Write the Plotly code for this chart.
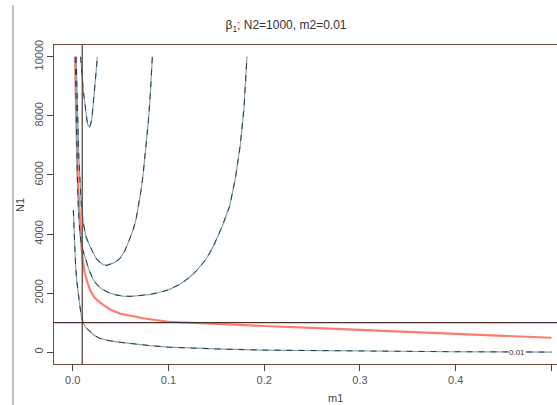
import plotly.graph_objects as go

# ---- data ----
red_m1 = [0.0024, 0.0035, 0.0047, 0.0059, 0.0075, 0.0090, 0.0104, 0.0125, 0.015, 0.018, 0.022, 0.027,
          0.032, 0.04, 0.05, 0.06, 0.075, 0.1, 0.15, 0.2, 0.25, 0.3, 0.35, 0.4, 0.45, 0.5]
red_N1 = [10000, 8000, 6600, 5520, 4400, 3650, 3130, 2700, 2400, 2110, 1880, 1720,
          1600, 1430, 1300, 1240, 1140, 1030, 950, 886, 820, 750, 680, 613, 550, 488]

low_m1 = [0.0007, 0.0013, 0.002, 0.003, 0.0042, 0.0058, 0.0076, 0.009, 0.011, 0.014, 0.018, 0.023, 0.0285,
          0.039, 0.05, 0.06, 0.08, 0.1, 0.125, 0.15, 0.2, 0.25, 0.3, 0.35, 0.4, 0.45, 0.5]
low_N1 = [4810, 4100, 3600, 2950, 2450, 1950, 1540, 1250, 977, 820, 692, 560, 466,
          385, 335, 296, 225, 170, 135, 110, 70, 50, 35, 24, 15, 9, 5]

c3_m1 = [0.0028, 0.0034, 0.004, 0.005, 0.006, 0.0075, 0.0094, 0.011, 0.0129, 0.015, 0.0175, 0.0215, 0.025,
         0.03, 0.035, 0.039, 0.045, 0.0524, 0.06, 0.07, 0.08, 0.09, 0.1, 0.112, 0.122, 0.13, 0.14, 0.147,
         0.156, 0.164, 0.17, 0.175, 0.179, 0.182]
c3_N1 = [10000, 8300, 7000, 5700, 4800, 4050, 3590, 3400, 3250, 3000, 2750, 2450, 2300,
         2150, 2060, 2000, 1940, 1900, 1890, 1910, 1950, 2020, 2110, 2300, 2530, 2780, 3180, 3590,
         4250, 4950, 5900, 7000, 8300, 10000]

c2_m1 = [0.0036, 0.0043, 0.005, 0.0057, 0.0064, 0.0076, 0.009, 0.011, 0.014, 0.018, 0.021, 0.024, 0.028,
         0.032, 0.036, 0.040, 0.044, 0.049, 0.054, 0.058, 0.0633, 0.0665, 0.0690, 0.0715, 0.0738, 0.0765,
         0.0790, 0.0812, 0.0832]
c2_N1 = [10000, 8900, 8000, 7200, 6600, 5860, 5000, 4385, 3900, 3590, 3380, 3200, 3050,
         2960, 2940, 2980, 3040, 3160, 3400, 3700, 4160, 4550, 5000, 5500, 6090, 6900,
         7800, 8800, 10000]

c1_m1 = [0.0083, 0.0089, 0.0095, 0.0102, 0.0110, 0.0119, 0.0129, 0.0137, 0.0146, 0.0153, 0.0160, 0.0167,
         0.0174, 0.0182, 0.0190, 0.0198, 0.0205, 0.0215, 0.0225, 0.0235, 0.0246, 0.0257]
c1_N1 = [10000, 9700, 9400, 9150, 8900, 8640, 8360, 8100, 7870, 7760, 7680, 7640,
         7620, 7650, 7720, 7860, 8050, 8360, 8720, 9100, 9540, 10000]

ref_m2 = 0.01
ref_N2 = 1000
contour_label = "0.01"
x_ticks = [0.0, 0.1, 0.2, 0.3, 0.4, 0.5]
x_tick_text = ["0.0", "0.1", "0.2", "0.3", "0.4", "0.5"]
y_ticks = [0, 2000, 4000, 6000, 8000, 10000]
y_tick_text = ["0", "2000", "4000", "6000", "8000", "10000"]

FONT = "Liberation Sans, Arial, sans-serif"
fig = go.Figure()

fig.add_trace(go.Scatter(x=red_m1, y=red_N1, mode="lines", line=dict(color="#ff7b6b", width=2.2),
                         hoverinfo="skip"))

for xs, ys in [(low_m1, low_N1), (c3_m1, c3_N1), (c2_m1, c2_N1), (c1_m1, c1_N1)]:
    fig.add_trace(go.Scatter(x=xs, y=ys, mode="lines", line=dict(color="#7fa6b8", width=1.2),
                             hoverinfo="skip"))
    fig.add_trace(go.Scatter(x=xs, y=ys, mode="lines",
                             line=dict(color="#2a2a2a", width=0.9, dash="6px,6px"),
                             hoverinfo="skip"))

line_col = "#4a3028"
fig.add_shape(type="line", xref="x", yref="paper", x0=ref_m2, x1=ref_m2, y0=0, y1=1,
              line=dict(color="#5a4a44", width=1.3))
fig.add_shape(type="line", xref="paper", yref="y", x0=0, x1=1, y0=ref_N2, y1=ref_N2,
              line=dict(color=line_col, width=1.2))
# outer page border at left
fig.add_shape(type="line", xref="paper", yref="paper", x0=-0.0815, x1=-0.0815, y0=-0.13, y1=1.125,
              line=dict(color="#8a7a72", width=1))

fig.add_annotation(x=0.4637, y=0, xref="x", yref="y", text=contour_label, showarrow=False,
                   font=dict(family=FONT, size=8, color="#333333"), bgcolor="white", borderpad=0)

# axis titles
fig.add_annotation(x=312 / 557, y=-(398 - 364) / 319, xref="paper", yref="paper", text="m1",
                   showarrow=False, xanchor="center", yanchor="middle",
                   font=dict(family=FONT, size=11, color="#444444"))
fig.add_annotation(x=-(54 - 20) / 503, y=(364 - 205) / 319, xref="paper", yref="paper", text="N1",
                   showarrow=False, xanchor="center", yanchor="middle", textangle=-90,
                   font=dict(family=FONT, size=11, color="#444444"))

fig.update_layout(
    width=557, height=405,
    margin=dict(l=54, r=0, t=45, b=41, autoexpand=False),
    paper_bgcolor="white", plot_bgcolor="white",
    showlegend=False,
    font=dict(family=FONT, size=11, color="#555555"),
    title=dict(text="β<sub>1</sub>; N2=1000, m2=0.01", x=286 / 557, xanchor="center",
               y=1 - 25 / 405, yanchor="middle", font=dict(family=FONT, size=12, color="#333333")),
    xaxis=dict(range=[-0.0195, 0.5058], tickvals=x_ticks, ticktext=x_tick_text, automargin=False,
               showgrid=False, zeroline=False, showline=True, mirror=True, linecolor="#7a4a3a", linewidth=1.2,
               ticks="outside", ticklen=6, tickcolor="#444444",
               tickfont=dict(family=FONT, size=11, color="#555555")),
    yaxis=dict(range=[-400, 10400], tickvals=y_ticks, ticktext=y_tick_text, automargin=False,
               showgrid=False, zeroline=False, showline=True,
               linecolor="#7a4a3a", linewidth=1.2, ticks="outside", ticklen=6, tickcolor="#444444",
               tickangle=-90, tickfont=dict(family=FONT, size=11, color="#555555")),
)

fig.write_html("out.html", config={"displayModeBar": False},
               post_script="document.body.style.margin='0';document.body.style.overflow='hidden';")
